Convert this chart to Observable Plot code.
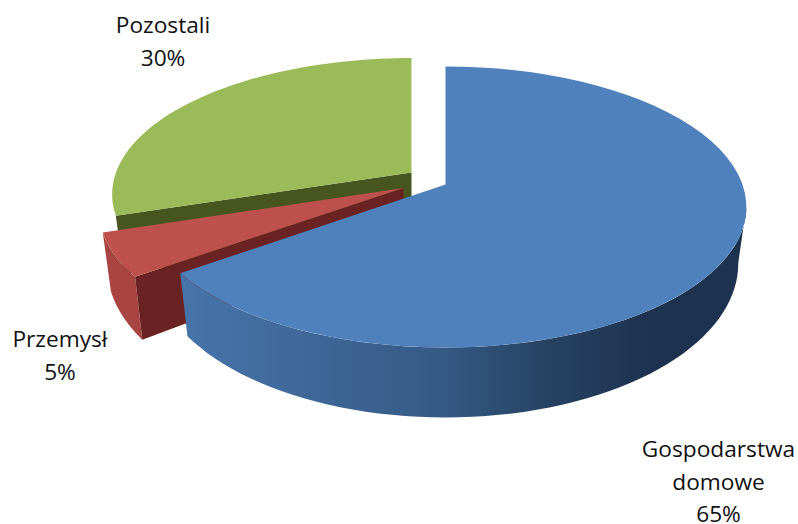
<!DOCTYPE html>
<html><head><meta charset="utf-8">
<style>html,body{margin:0;padding:0;background:#fff}svg{display:block}</style>
<script src="https://cdn.jsdelivr.net/npm/d3@7"></script>
<script src="https://cdn.jsdelivr.net/npm/@observablehq/plot@0.6"></script>
</head><body>
<script>
const categories = ["Gospodarstwa\ndomowe", "Przemysł", "Pozostali"];
const shares = [65, 5, 30];

// Perspective of the 3D disc
const view = {A: 297, B: 136.9, a: 0.16, A2: 289, B2: 150, a2: 0.16, drop: 54.4};
// Where each exploded slice has its apex
const apex = [
  {cx: 445, cy: 184, kx: 1, ky: 1},
  {cx: 403, cy: 187.5, kx: 1.012, ky: 1},
  {cx: 411, cy: 172, kx: 0.995, ky: 0.97}
];
const rad = d => d * Math.PI / 180;
const rimTop = (s, t) => {
  const w = 1 + view.a * Math.cos(rad(t));
  return {x: s.cx + s.kx * view.A * Math.sin(rad(t)) / w, y: s.cy - s.ky * view.B * Math.cos(rad(t)) / w};
};
const rimBottom = (s, t) => {
  const w = 1 + view.a2 * Math.cos(rad(t));
  return {x: s.cx + s.kx * view.A2 * Math.sin(rad(t)) / w, y: s.cy + view.drop - s.ky * view.B2 * Math.cos(rad(t)) / w};
};
const sweep = (f, s, t0, t1) => d3.range(0, 61).map(i => f(s, t0 + (t1 - t0) * i / 60));

// Slice angles come from the shares
const total = d3.sum(shares);
let acc = 0;
const angles = shares.map(v => { const a = [acc, acc + v]; acc += v; return a.map(p => p / total * 360); });

const [blueA, redA, greenA] = angles;
const [blueS, redS, greenS] = apex;
const hub = s => ({x: s.cx, y: s.cy});
const hubBottom = s => ({x: s.cx, y: s.cy + view.drop});

const greenTop = [hub(greenS), ...sweep(rimTop, greenS, greenA[0], greenA[1])];
const greenInner = [hub(greenS), rimTop(greenS, greenA[0]), rimBottom(greenS, greenA[0]), hubBottom(greenS)];
const redOuter = [...sweep(rimTop, redS, redA[0], redA[1]), ...sweep(rimBottom, redS, redA[1], redA[0])];
const redInner = [hub(redS), rimTop(redS, redA[0]), rimBottom(redS, redA[0]), hubBottom(redS)];
const redTop = [hub(redS), ...sweep(rimTop, redS, redA[0], redA[1])];
const wallStart = 99;
const blueWall = [...sweep(rimTop, blueS, wallStart, blueA[1]), ...sweep(rimBottom, blueS, blueA[1], wallStart)];
const blueTop = [hub(blueS), ...sweep(rimTop, blueS, blueA[0], blueA[1])];

const poly = (data, fill) => Plot.line(data, {x: "x", y: "y", fill, stroke: "none", curve: "linear-closed"});

const gradient = () => {
  const ns = "http://www.w3.org/2000/svg";
  const defs = document.createElementNS(ns, "defs");
  const g = document.createElementNS(ns, "linearGradient");
  g.setAttribute("id", "wall");
  g.setAttribute("gradientUnits", "userSpaceOnUse");
  g.setAttribute("x1", 187); g.setAttribute("x2", 650);
  g.setAttribute("y1", 0); g.setAttribute("y2", 0);
  [[0, "#4674a9"], [0.25, "#3f6898"], [0.55, "#355a86"], [0.78, "#274262"], [1, "#1d324f"]].forEach(([o, c]) => {
    const st = document.createElementNS(ns, "stop");
    st.setAttribute("offset", o); st.setAttribute("stop-color", c);
    g.appendChild(st);
  });
  defs.appendChild(g);
  return defs;
};

const labelText = categories.map((c, i) => `${c}\n${shares[i]}%`);
const labelAt = [{x: 718, y: 479}, {x: 59.5, y: 352.5}, {x: 162.5, y: 38.5}];

const chart = Plot.plot({
  width: 798, height: 524,
  margin: 0,
  x: {domain: [0, 798], range: [0, 798], axis: null},
  y: {domain: [0, 524], range: [0, 524], axis: null},
  style: {background: "#fff"},
  marks: [
    gradient,
    poly(greenInner, "#47561f"),
    poly(greenTop, "#9bbb59"),
    poly(redOuter, "#a84542"),
    poly(redInner, "#6a2322"),
    poly(redTop, "#be504d"),
    poly(blueWall, "url(#wall)"),
    poly(blueTop, "#4f81bd"),
    Plot.text(labelText, {
      x: (d, i) => labelAt[i].x, y: (d, i) => labelAt[i].y,
      text: d => d, fontSize: 22.7, lineHeight: 1.432, fontFamily: "Open Sans", fill: "#111", textAnchor: "middle"
    })
  ]
});
document.body.appendChild(chart);
</script>
</body></html>
